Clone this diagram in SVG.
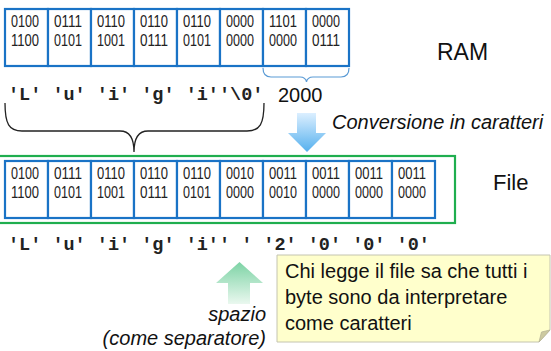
<svg xmlns="http://www.w3.org/2000/svg" width="551" height="351" viewBox="0 0 551 351">
<defs>
<linearGradient id="gBlue" x1="0" y1="0" x2="0" y2="1">
<stop offset="0" stop-color="#dcefff"/>
<stop offset="1" stop-color="#55b0ee"/>
</linearGradient>
<linearGradient id="gGreen" x1="0" y1="0" x2="0" y2="1">
<stop offset="0" stop-color="#7dd3a5"/>
<stop offset="1" stop-color="#eaf8ef"/>
</linearGradient>
</defs>
<style>
.cell{fill:#ffffff;stroke:#1a73c6;stroke-width:2.2}
.bits{font-family:"Liberation Sans Narrow","Liberation Sans",Arial,sans-serif;font-size:16.5px;fill:#222}
.mono{font-family:"Liberation Mono","Courier New",monospace;font-weight:bold;font-size:18.5px;fill:#222}
.lbl{font-family:"Liberation Sans",Arial,sans-serif;fill:#111}
.it{font-family:"Liberation Sans",Arial,sans-serif;font-style:italic;font-size:20px;fill:#111}
.note{font-family:"Liberation Sans",Arial,sans-serif;font-size:20px;fill:#111}
</style>

<g id="ram">
<rect class="cell" x="5" y="9" width="43" height="57"/>
<rect class="cell" x="48" y="9" width="43" height="57"/>
<rect class="cell" x="91" y="9" width="43" height="57"/>
<rect class="cell" x="134" y="9" width="43" height="57"/>
<rect class="cell" x="177" y="9" width="43" height="57"/>
<rect class="cell" x="220" y="9" width="43" height="57"/>
<rect class="cell" x="263" y="9" width="43" height="57"/>
<rect class="cell" x="306" y="9" width="43" height="57"/>
<g class="bits">
<text x="11" y="27" textLength="28" lengthAdjust="spacingAndGlyphs">0100</text>
<text x="11" y="46" textLength="28" lengthAdjust="spacingAndGlyphs">1100</text>
<text x="54" y="27" textLength="28" lengthAdjust="spacingAndGlyphs">0111</text>
<text x="54" y="46" textLength="28" lengthAdjust="spacingAndGlyphs">0101</text>
<text x="97" y="27" textLength="28" lengthAdjust="spacingAndGlyphs">0110</text>
<text x="97" y="46" textLength="28" lengthAdjust="spacingAndGlyphs">1001</text>
<text x="140" y="27" textLength="28" lengthAdjust="spacingAndGlyphs">0110</text>
<text x="140" y="46" textLength="28" lengthAdjust="spacingAndGlyphs">0111</text>
<text x="183" y="27" textLength="28" lengthAdjust="spacingAndGlyphs">0110</text>
<text x="183" y="46" textLength="28" lengthAdjust="spacingAndGlyphs">0101</text>
<text x="226" y="27" textLength="28" lengthAdjust="spacingAndGlyphs">0000</text>
<text x="226" y="46" textLength="28" lengthAdjust="spacingAndGlyphs">0000</text>
<text x="269" y="27" textLength="28" lengthAdjust="spacingAndGlyphs">1101</text>
<text x="269" y="46" textLength="28" lengthAdjust="spacingAndGlyphs">0000</text>
<text x="312" y="27" textLength="28" lengthAdjust="spacingAndGlyphs">0000</text>
<text x="312" y="46" textLength="28" lengthAdjust="spacingAndGlyphs">0111</text>
</g>
<text class="lbl" x="437" y="60" font-size="23">RAM</text>
</g>

<g id="ram-chars">
<text class="mono" x="8" y="100">'L' 'u' 'i' 'g' 'i''\0'</text>
<text class="lbl" x="278" y="102" font-size="20">2000</text>
</g>

<g id="connectors">
<path d="M5,103 C5,124 9,131 22,131 L120,131 C130,131 134,139 134,152 C134,139 138,131 148,131 L247,131 C260,131 264,124 264,103" fill="none" stroke="#222" stroke-width="1.3"/>
<path d="M263,68 C263,74 266,77 271,77 L300,77 C304,77 306,79 306.5,82 C307,79 309,77 313,77 L341,77 C346,77 349,74 349,68" fill="none" stroke="#5b9bd5" stroke-width="1.2"/>
<polygon points="297,113 316,113 316,133 326,133 307,152 288,133 297,133" fill="url(#gBlue)"/>
<polygon points="239.5,262 263,283 250,283 250,304 228,304 228,283 216,283" fill="url(#gGreen)"/>
</g>

<g id="conversion-label">
<text class="it" x="332" y="129">Conversione in caratteri</text>
</g>

<g id="file">
<rect x="-5" y="156" width="460" height="67" fill="none" stroke="#1fae4f" stroke-width="2.2"/>
<rect class="cell" x="5" y="161" width="43" height="57"/>
<rect class="cell" x="48" y="161" width="43" height="57"/>
<rect class="cell" x="91" y="161" width="43" height="57"/>
<rect class="cell" x="134" y="161" width="43" height="57"/>
<rect class="cell" x="177" y="161" width="43" height="57"/>
<rect class="cell" x="220" y="161" width="43" height="57"/>
<rect class="cell" x="263" y="161" width="43" height="57"/>
<rect class="cell" x="306" y="161" width="43" height="57"/>
<rect class="cell" x="349" y="161" width="43" height="57"/>
<rect class="cell" x="392" y="161" width="43" height="57"/>
<g class="bits">
<text x="11" y="179" textLength="28" lengthAdjust="spacingAndGlyphs">0100</text>
<text x="11" y="198" textLength="28" lengthAdjust="spacingAndGlyphs">1100</text>
<text x="54" y="179" textLength="28" lengthAdjust="spacingAndGlyphs">0111</text>
<text x="54" y="198" textLength="28" lengthAdjust="spacingAndGlyphs">0101</text>
<text x="97" y="179" textLength="28" lengthAdjust="spacingAndGlyphs">0110</text>
<text x="97" y="198" textLength="28" lengthAdjust="spacingAndGlyphs">1001</text>
<text x="140" y="179" textLength="28" lengthAdjust="spacingAndGlyphs">0110</text>
<text x="140" y="198" textLength="28" lengthAdjust="spacingAndGlyphs">0111</text>
<text x="183" y="179" textLength="28" lengthAdjust="spacingAndGlyphs">0110</text>
<text x="183" y="198" textLength="28" lengthAdjust="spacingAndGlyphs">0101</text>
<text x="226" y="179" textLength="28" lengthAdjust="spacingAndGlyphs">0010</text>
<text x="226" y="198" textLength="28" lengthAdjust="spacingAndGlyphs">0000</text>
<text x="269" y="179" textLength="28" lengthAdjust="spacingAndGlyphs">0011</text>
<text x="269" y="198" textLength="28" lengthAdjust="spacingAndGlyphs">0010</text>
<text x="312" y="179" textLength="28" lengthAdjust="spacingAndGlyphs">0011</text>
<text x="312" y="198" textLength="28" lengthAdjust="spacingAndGlyphs">0000</text>
<text x="355" y="179" textLength="28" lengthAdjust="spacingAndGlyphs">0011</text>
<text x="355" y="198" textLength="28" lengthAdjust="spacingAndGlyphs">0000</text>
<text x="398" y="179" textLength="28" lengthAdjust="spacingAndGlyphs">0011</text>
<text x="398" y="198" textLength="28" lengthAdjust="spacingAndGlyphs">0000</text>
</g>
<text class="lbl" x="493" y="190" font-size="22">File</text>
</g>

<g id="file-chars">
<text class="mono" x="8" y="250">'L' 'u' 'i' 'g' 'i'' ' '2' '0' '0' '0'</text>
</g>

<g id="space-label">
<text class="it" x="266" y="321" text-anchor="end">spazio</text>
<text class="it" x="266" y="345" text-anchor="end">(come separatore)</text>
</g>

<g id="note">
<path d="M277,255 H550 V330 L539,342 H277 Z" fill="#ffffcc" stroke="#c4c4b0" stroke-width="1"/>
<path d="M539,342 L541.5,332 L550,330 Z" fill="#cdcaa0" stroke="#b8b598" stroke-width="0.8"/>
<text class="note" x="285" y="278">Chi legge il file sa che tutti i</text>
<text class="note" x="285" y="304">byte sono da interpretare</text>
<text class="note" x="285" y="330">come caratteri</text>
</g>
</svg>
